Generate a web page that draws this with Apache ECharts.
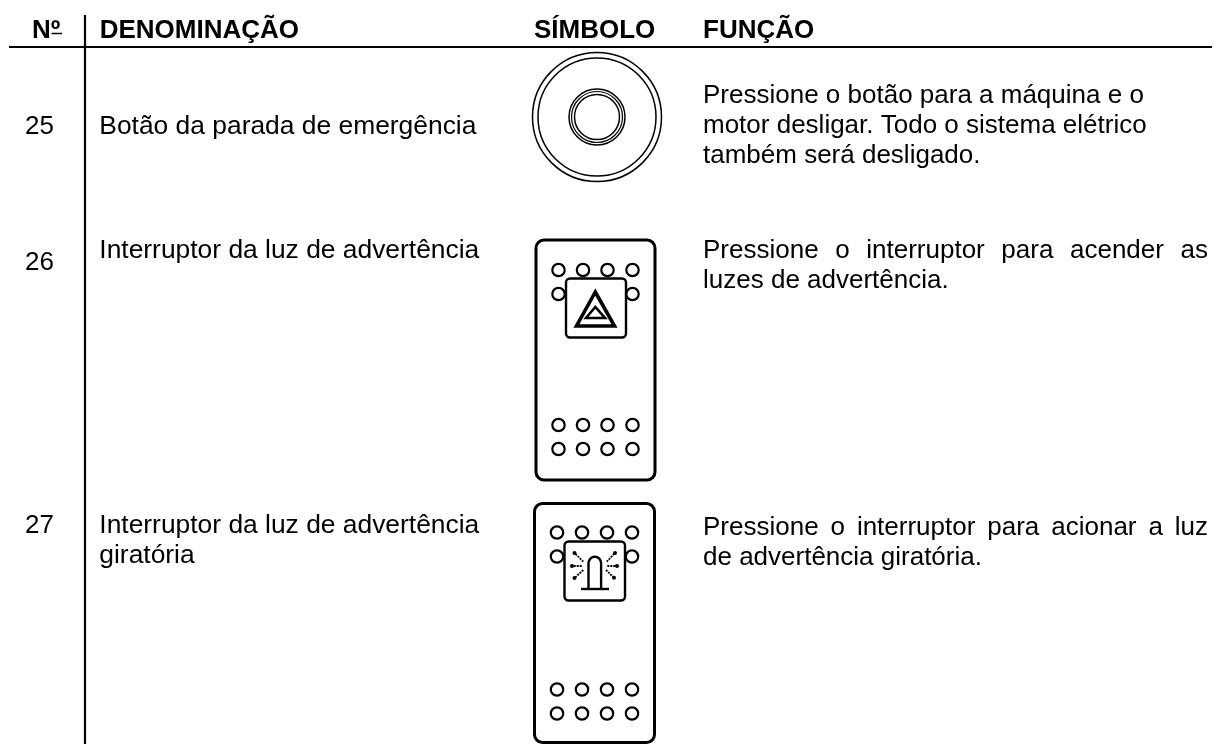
<!DOCTYPE html>
<html>
<head>
<meta charset="utf-8">
<style>
  html, body { margin: 0; padding: 0; background: #fff; }
  #chart { width: 1228px; height: 744px; }
</style>
<script src="https://cdn.jsdelivr.net/npm/echarts@6/dist/echarts.min.js"></script>
</head>
<body>
<div id="chart"></div>
<script>
const headers = ['Nº', 'DENOMINAÇÃO', 'SÍMBOLO', 'FUNÇÃO'];
const numbers = ['25', '26', '27'];
const names = [
  ['Botão da parada de emergência'],
  ['Interruptor da luz de advertência'],
  ['Interruptor da luz de advertência', 'giratória'],
];
const functions = [
  ['Pressione o botão para a máquina e o', 'motor desligar. Todo o sistema elétrico', 'também será desligado.'],
  ['Pressione o interruptor para acender as', 'luzes de advertência.'],
  ['Pressione o interruptor para acionar a luz', 'de advertência giratória.'],
];
// first line of rows 26 and 27 is justified in the original
const justified = [false, true, true];

const FONT = '"Liberation Sans", Arial, sans-serif';
const INK = '#000';
const chart = echarts.init(document.getElementById('chart'));
const els = [];

const measure = document.createElement('canvas').getContext('2d');
function label(text, x, y, size, weight) {
  els.push({ type: 'text', x, y, style: { text, fill: INK, font: `${weight || 'normal'} ${size}px ${FONT}`, textAlign: 'left', textVerticalAlign: 'middle' } });
}
function justify(text, x, y, size, right) {
  measure.font = `${size}px ${FONT}`;
  const words = text.split(' ');
  const total = words.reduce((s, w) => s + measure.measureText(w).width, 0);
  const gap = (right - x - total) / (words.length - 1);
  let cx = x;
  words.forEach((w) => {
    label(w, cx, y, size);
    cx += measure.measureText(w).width + gap;
  });
}
function line(x1, y1, x2, y2, w) {
  els.push({ type: 'line', shape: { x1, y1, x2, y2 }, style: { stroke: INK, lineWidth: w } });
}
function ring(cx, cy, r, w) {
  els.push({ type: 'circle', shape: { cx, cy, r }, style: { fill: '#fff', stroke: INK, lineWidth: w } });
}
function rect(x, y, width, height, r, w) {
  els.push({ type: 'rect', shape: { x, y, width, height, r }, style: { fill: '#fff', stroke: INK, lineWidth: w } });
}
function tri(points, w) {
  els.push({ type: 'polygon', shape: { points }, style: { fill: 'none', stroke: INK, lineWidth: w, lineJoin: 'miter' } });
}

// rules
line(9, 47, 1212, 47, 2);
line(85, 15, 85, 744, 2.2);

// header
const headerX = [32, 99.7, 534, 703];
headers.forEach((h, i) => label(h, headerX[i], 30.7, 26, 'bold'));
line(51.5, 33.5, 62, 33.5, 1.5); // the º is underlined in the original

// rows
const numberY = [126.7, 263, 526];
const nameY = [126.7, 251, 526];
const funcY = [96, 251, 527.5];
const LINE = 30;
const SIZE = 26;
const NAME_SIZE = 26.4;
numbers.forEach((n, i) => {
  label(n, 25, numberY[i], SIZE);
  names[i].forEach((t, k) => label(t, 99.3, nameY[i] + k * LINE, NAME_SIZE));
  functions[i].forEach((t, k) => {
    if (justified[i] && k === 0) justify(t, 703, funcY[i] + k * LINE, SIZE, 1208);
    else label(t, 703, funcY[i] + k * LINE, SIZE);
  });
});

// emergency stop symbol
ring(597, 117, 64.5, 1.5);
ring(597, 117, 59, 1.5);
ring(597, 117, 28, 1.5);
ring(597, 117, 25.5, 1.2);
ring(597, 117, 22.5, 1.5);

// rocker switch body, the inner symbol is drawn afterwards
function rocker(x1, y1, x2, y2, cols, rows, sq) {
  rect(x1, y1, x2 - x1, y2 - y1, 8, 3);
  rows.forEach((y) => cols.forEach((x) => ring(x, y, 6.2, 2.2)));
  rect(sq[0], sq[1], sq[2] - sq[0], sq[3] - sq[1], 4, 2.4);
}

rocker(536, 240, 655, 480,
  [558.5, 583, 607.5, 632.5], [270, 294, 425, 449],
  [566, 278.5, 626, 337.5]);
tri([[595.3, 292], [576.5, 326], [614.5, 326]], 3.6);
tri([[595.3, 307], [586, 318], [605, 318]], 2.6);

rocker(534.5, 503.5, 654.5, 742.5,
  [557, 582, 607, 632], [532.5, 556.5, 689.5, 713.5],
  [564.5, 541.5, 625, 600.5]);
// beacon
els.push({ type: 'arc', shape: { cx: 594.8, cy: 563, r: 6.3, startAngle: Math.PI, endAngle: 2 * Math.PI, clockwise: true }, style: { fill: 'none', stroke: INK, lineWidth: 2.4 } });
line(588.5, 563, 588.5, 589, 2.4);
line(601.1, 563, 601.1, 589, 2.4);
line(581, 589, 609, 589, 2.4);
const rays = [
  [583.3, 561.7, 574.5, 553], [581.7, 566, 572, 566], [583.3, 570, 574.5, 578],
  [606.7, 561.7, 615, 553], [607.3, 566, 617, 566], [606, 570, 614, 577.7],
];
rays.forEach((r) => {
  els.push({ type: 'line', shape: { x1: r[0], y1: r[1], x2: r[2], y2: r[3] }, style: { stroke: INK, lineWidth: 1.8, lineDash: [2, 1] } });
  els.push({ type: 'circle', shape: { cx: r[2], cy: r[3], r: 2 }, style: { fill: INK } });
});

chart.setOption({
  animation: false,
  backgroundColor: '#fff',
  graphic: { elements: els },
});
</script>
</body>
</html>
